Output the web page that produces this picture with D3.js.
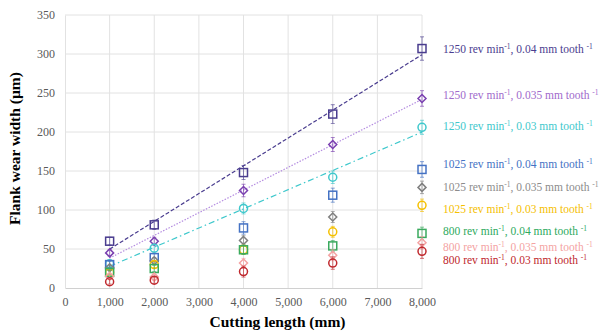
<!DOCTYPE html>
<html>
<head>
<meta charset="utf-8">
<script src="https://cdn.jsdelivr.net/npm/d3@7"></script>
<style>
  body { margin: 0; background: #fff; }
  text { font-family: "Liberation Serif", serif; }
</style>
</head>
<body>
<div class="chart"></div>
<script>
// cutting lengths (mm)
var lengths = [1000, 2000, 4000, 6000, 8000];

var seriesNames = [
    ["1250", "0.04"], ["1250", "0.035"], ["1250", "0.03"],
    ["1025", "0.04"], ["1025", "0.035"], ["1025", "0.03"],
    ["800", "0.04"], ["800", "0.035"], ["800", "0.03"]
];

// flank wear width (µm)
var wear1250_04 = [60, 81, 148, 223, 307];
var wear1250_035 = [45, 60, 125, 184, 243];
var wear1250_03 = [31, 51, 102, 142, 206];
var wear1025_04 = [30, 39, 77, 119, 152];
var wear1025_035 = [26, 35, 61, 91, 129];
var wear1025_03 = [20, 30, 49, 72, 106];
var wear800_04 = [20, 25, 49, 54, 70];
var wear800_035 = [15, 14, 32, 42, 58];
var wear800_03 = [8, 10, 21, 32, 47];

// +/- error
var err1250_04 = [5, 6, 9, 12, 15];
var err1250_035 = [4, 5, 8, 9, 10];
var err1250_03 = [4, 5, 7, 8, 9];
var err1025_04 = [4, 5, 8, 9, 10];
var err1025_035 = [3, 4, 6, 7, 8];
var err1025_03 = [3, 4, 6, 7, 8];
var err800_04 = [3, 4, 6, 7, 8];
var err800_035 = [3, 4, 6, 7, 8];
var err800_03 = [3, 4, 7, 8, 9];

var xTicks = [0, 1000, 2000, 3000, 4000, 5000, 6000, 7000, 8000];
var yTicks = [0, 50, 100, 150, 200, 250, 300, 350];

var wear = [wear1250_04, wear1250_035, wear1250_03, wear1025_04, wear1025_035,
    wear1025_03, wear800_04, wear800_035, wear800_03];
var errs = [err1250_04, err1250_035, err1250_03, err1025_04, err1025_035,
    err1025_03, err800_04, err800_035, err800_03];

// styling
var markerColor = ['#4a3d8f', '#7a3fb0', '#3ec8cc', '#4472c4', '#7f7f7f', '#f5c000', '#3aaa5e', '#f4a3a3', '#c0282d'];
var labelColor = ['#4a3d8f', '#a06acc', '#3ec8cc', '#4472c4', '#8c8c8c', '#f5c000', '#2eaa5e', '#f4a3a3', '#c0282d'];
var shapes = ['square', 'diamond', 'circle', 'square', 'diamond', 'circle', 'square', 'diamond', 'circle'];
var trendDash = ['4,2', '1.5,1.5', '6,3,1.5,3'];
var labelNudge = [0, -3, -1, -5, 0, 4, -2, 4, 9];

var margin = { top: 15, right: 184, bottom: 46, left: 65 };
var width = 606 - margin.left - margin.right;
var height = 334 - margin.top - margin.bottom;

var x = d3.scaleLinear().domain([0, 8000]).range([0, width]);
var y = d3.scaleLinear().domain([0, 350]).range([height, 0]);

var svg = d3.select('.chart')
    .append('svg')
    .attr('width', 606)
    .attr('height', 334);

var g = svg.append('g')
    .attr('transform', `translate(${margin.left},${margin.top})`);

// grid
g.append('g')
    .selectAll('line')
    .data(yTicks.slice(1))
    .enter()
    .append('line')
    .attr('x1', 0).attr('x2', width)
    .attr('y1', d => y(d)).attr('y2', d => y(d))
    .attr('stroke', '#e2e2e2');

g.append('g')
    .selectAll('line')
    .data(xTicks.slice(1))
    .enter()
    .append('line')
    .attr('x1', d => x(d)).attr('x2', d => x(d))
    .attr('y1', 0).attr('y2', height)
    .attr('stroke', '#e2e2e2');

// axes
var xAxis = d3.axisBottom(x).tickValues(xTicks).tickSize(0).tickPadding(9)
    .tickFormat(d3.format(','));
var yAxis = d3.axisLeft(y).tickValues(yTicks).tickSize(0).tickPadding(10);

var gx = g.append('g')
    .attr('transform', `translate(0, ${height})`)
    .call(xAxis);
gx.select('.domain').attr('stroke', '#d0d0d0');
gx.selectAll('text').attr('fill', '#595959').style('font-family', '"Liberation Serif", serif').style('font-size', '12px');

var gy = g.append('g').call(yAxis);
gy.select('.domain').attr('stroke', '#e2e2e2');
gy.selectAll('text').attr('fill', '#595959').style('font-family', '"Liberation Serif", serif').style('font-size', '12px');

// trend lines for 1250 rev/min series (least squares)
function fit(vals) {
    var mx = d3.mean(lengths), my = d3.mean(vals);
    var sxy = d3.sum(lengths, (l, i) => (l - mx) * (vals[i] - my));
    var sxx = d3.sum(lengths, l => (l - mx) * (l - mx));
    var b = sxy / sxx;
    return l => my + b * (l - mx);
}

[0, 1, 2].forEach(s => {
    var f = fit(wear[s]);
    g.append('line')
        .attr('x1', x(1000)).attr('y1', y(f(1000)))
        .attr('x2', x(8000)).attr('y2', y(f(8000)))
        .attr('stroke', s == 1 ? '#b48ce0' : markerColor[s])
        .attr('stroke-width', 1.2)
        .attr('stroke-dasharray', trendDash[s]);
});

// points with error bars
wear.forEach((vals, s) => {
    var c = markerColor[s];
    var pts = g.append('g');
    vals.forEach((v, i) => {
        var px = x(lengths[i]), e = errs[s][i];
        pts.append('line')
            .attr('x1', px).attr('x2', px)
            .attr('y1', y(v - e)).attr('y2', y(v + e))
            .attr('stroke', c).attr('stroke-width', 0.8).attr('opacity', 0.8);
        [v - e, v + e].forEach(t => {
            pts.append('line')
                .attr('x1', px - 2).attr('x2', px + 2)
                .attr('y1', y(t)).attr('y2', y(t))
                .attr('stroke', c).attr('stroke-width', 0.8).attr('opacity', 0.8);
        });
        var py = y(v);
        if (shapes[s] == 'square') {
            pts.append('rect')
                .attr('x', px - 4).attr('y', py - 4)
                .attr('width', 8).attr('height', 8)
                .attr('fill', 'none').attr('stroke', c).attr('stroke-width', 1.5);
        } else if (shapes[s] == 'circle') {
            pts.append('circle')
                .attr('cx', px).attr('cy', py).attr('r', 4)
                .attr('fill', 'none').attr('stroke', c).attr('stroke-width', 1.5);
        } else {
            pts.append('path')
                .attr('d', `M${px},${py - 4}L${px + 4},${py}L${px},${py + 4}L${px - 4},${py}Z`)
                .attr('fill', 'none').attr('stroke', c).attr('stroke-width', 1.5);
        }
    });
});

// series labels beside the last point
seriesNames.forEach((n, s) => {
    var last = wear[s][wear[s].length - 1];
    var t = g.append('text')
        .attr('x', width + 21)
        .attr('y', y(last) + labelNudge[s] + 4)
        .attr('fill', labelColor[s])
        .style('font-size', '11.5px');
    t.append('tspan').text(n[0] + ' rev min');
    t.append('tspan').attr('dy', -4).style('font-size', '7.5px').text('-1');
    t.append('tspan').attr('dy', 4).text(', ' + n[1] + ' mm tooth ');
    t.append('tspan').attr('dy', -4).style('font-size', '7.5px').text('-1');
});

// axis titles
svg.append('text')
    .attr('x', margin.left + width / 2 + 34)
    .attr('y', 327)
    .attr('text-anchor', 'middle')
    .style('font-size', '15.5px')
    .style('font-weight', 'bold')
    .text('Cutting length (mm)');

svg.append('text')
    .attr('transform', `translate(20, ${margin.top + height / 2 - 3}) rotate(-90)`)
    .attr('text-anchor', 'middle')
    .style('font-size', '15.5px')
    .style('font-weight', 'bold')
    .text('Flank wear width (µm)');
</script>
</body>
</html>
